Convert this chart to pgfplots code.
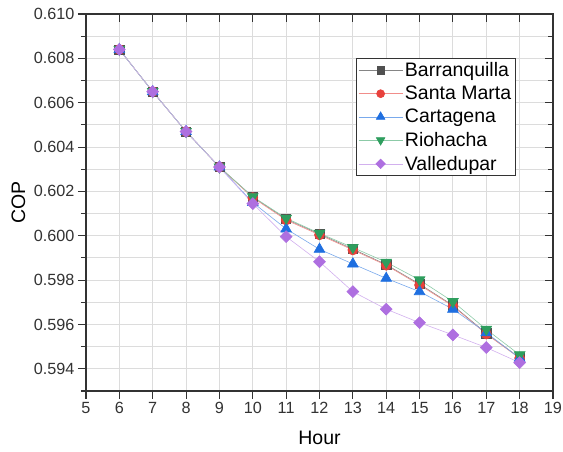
\documentclass[border=0pt]{standalone}
\usepackage{fontspec}
\setmainfont{Liberation Sans}
\usepackage{pgfplots}
\pgfplotsset{compat=1.18}
\definecolor{cBar}{HTML}{505050}
\definecolor{cSan}{HTML}{E8413C}
\definecolor{cCar}{HTML}{1F6FE0}
\definecolor{cRio}{HTML}{2E9E5E}
\definecolor{cVal}{HTML}{AE6FE0}
\definecolor{gridc}{HTML}{DCDCDC}
\definecolor{axc}{HTML}{333333}
\begin{document}
\begin{tikzpicture}
\pgfplotsset{
  common/.style={
    width=467pt, height=377pt, scale only axis,
    xmin=5, xmax=19, ymin=0.593, ymax=0.610,
    xtick={5,6,...,19},
    ytick={0.594,0.596,...,0.6101},
    minor ytick={0.593,0.595,...,0.6095},
    axis line style={line width=1.1pt, axc},
    major tick length=8pt, minor tick length=5pt,
    every tick/.style={line width=1.1pt, axc},
  }
}
\begin{axis}[common, name=ax,
  xtick pos=left, ytick pos=left, tick align=outside,
  grid=both,
  major grid style={gridc, line width=0.9pt},
  minor grid style={gridc, line width=0.9pt},
  minor x tick num=0,
  scaled y ticks=false,
  /pgf/number format/assume math mode=true,
  yticklabel style={/pgf/number format/fixed, /pgf/number format/fixed zerofill, /pgf/number format/precision=3, font=\fontsize{16.2}{18}\selectfont, text=axc},
  xticklabel style={font=\fontsize{16.2}{18}\selectfont, text=axc},
  xlabel={Hour}, ylabel={COP},
  label style={font=\fontsize{19.5}{22}\selectfont},
  xlabel style={at={(axis description cs:0.5,-0.1432)}, anchor=base},
  ylabel style={at={(axis description cs:-0.1306,0.5)}, anchor=base},
  legend style={at={(0.578,0.883)}, anchor=north west, draw=axc, line width=0.8pt,
    font=\fontsize{19.5}{22}\selectfont, row sep=4pt, inner xsep=2pt, inner ysep=2pt},
  legend cell align=left,
  legend image code/.code={\draw[mark repeat=2,mark phase=2,/tikz/every mark/.append style={scale=0.8}] plot coordinates {(0pt,0pt) (22pt,0pt) (44pt,0pt)};},
]
\addplot[cBar!70, line width=0.6pt, mark=square*, mark size=4.6pt, mark options={draw=cBar, fill=cBar}] coordinates {
(6,0.6084) (7,0.6065) (8,0.6047) (9,0.6031) (10,0.60175) (11,0.60075) (12,0.60008) (13,0.59940) (14,0.59870) (15,0.59782) (16,0.59686) (17,0.59560) (18,0.59450)};
\addlegendentry{Barranquilla}
\addplot[cSan!60, line width=0.6pt, mark=*, mark size=5pt, mark options={draw=cSan, fill=cSan}] coordinates {
(6,0.6084) (7,0.6065) (8,0.6047) (9,0.6031) (10,0.60172) (11,0.60071) (12,0.60004) (13,0.59936) (14,0.59867) (15,0.59778) (16,0.59683) (17,0.59557) (18,0.59448)};
\addlegendentry{Santa Marta}
\addplot[cCar!60, line width=0.6pt, mark=triangle*, mark size=6.2pt, mark options={draw=cCar, fill=cCar}] coordinates {
(6,0.6084) (7,0.6065) (8,0.6047) (9,0.6031) (10,0.60150) (11,0.60031) (12,0.59939) (13,0.59873) (14,0.59808) (15,0.59748) (16,0.59669) (17,0.59563) (18,0.59448)};
\addlegendentry{Cartagena}
\addplot[cRio!55, line width=0.6pt, mark=triangle*, mark size=6.2pt, mark options={draw=cRio, fill=cRio, rotate=180}] coordinates {
(6,0.6084) (7,0.6065) (8,0.6047) (9,0.6031) (10,0.60176) (11,0.60079) (12,0.60011) (13,0.59947) (14,0.59881) (15,0.59801) (16,0.59703) (17,0.59578) (18,0.59463)};
\addlegendentry{Riohacha}
\addplot[cVal!55, line width=0.6pt, mark=square*, mark size=4.2pt, mark options={draw=cVal, fill=cVal, rotate=45}] coordinates {
(6,0.6084) (7,0.6065) (8,0.6047) (9,0.6031) (10,0.60145) (11,0.59996) (12,0.59883) (13,0.59748) (14,0.59669) (15,0.59608) (16,0.59553) (17,0.59496) (18,0.59428)};
\addlegendentry{Valledupar}
\end{axis}
\begin{axis}[common,
  xtick pos=right, ytick pos=right, tick align=inside,
  xticklabels={}, yticklabels={}, minor x tick num=0,
  scaled y ticks=false,
]
\end{axis}
\path (ax.south west) ++(-86pt,-61pt) coordinate (bbA);
\path (ax.north east) ++(10pt,14pt) coordinate (bbB);
\pgfresetboundingbox
\path[use as bounding box] (bbA) rectangle (bbB);
\end{tikzpicture}
\end{document}
